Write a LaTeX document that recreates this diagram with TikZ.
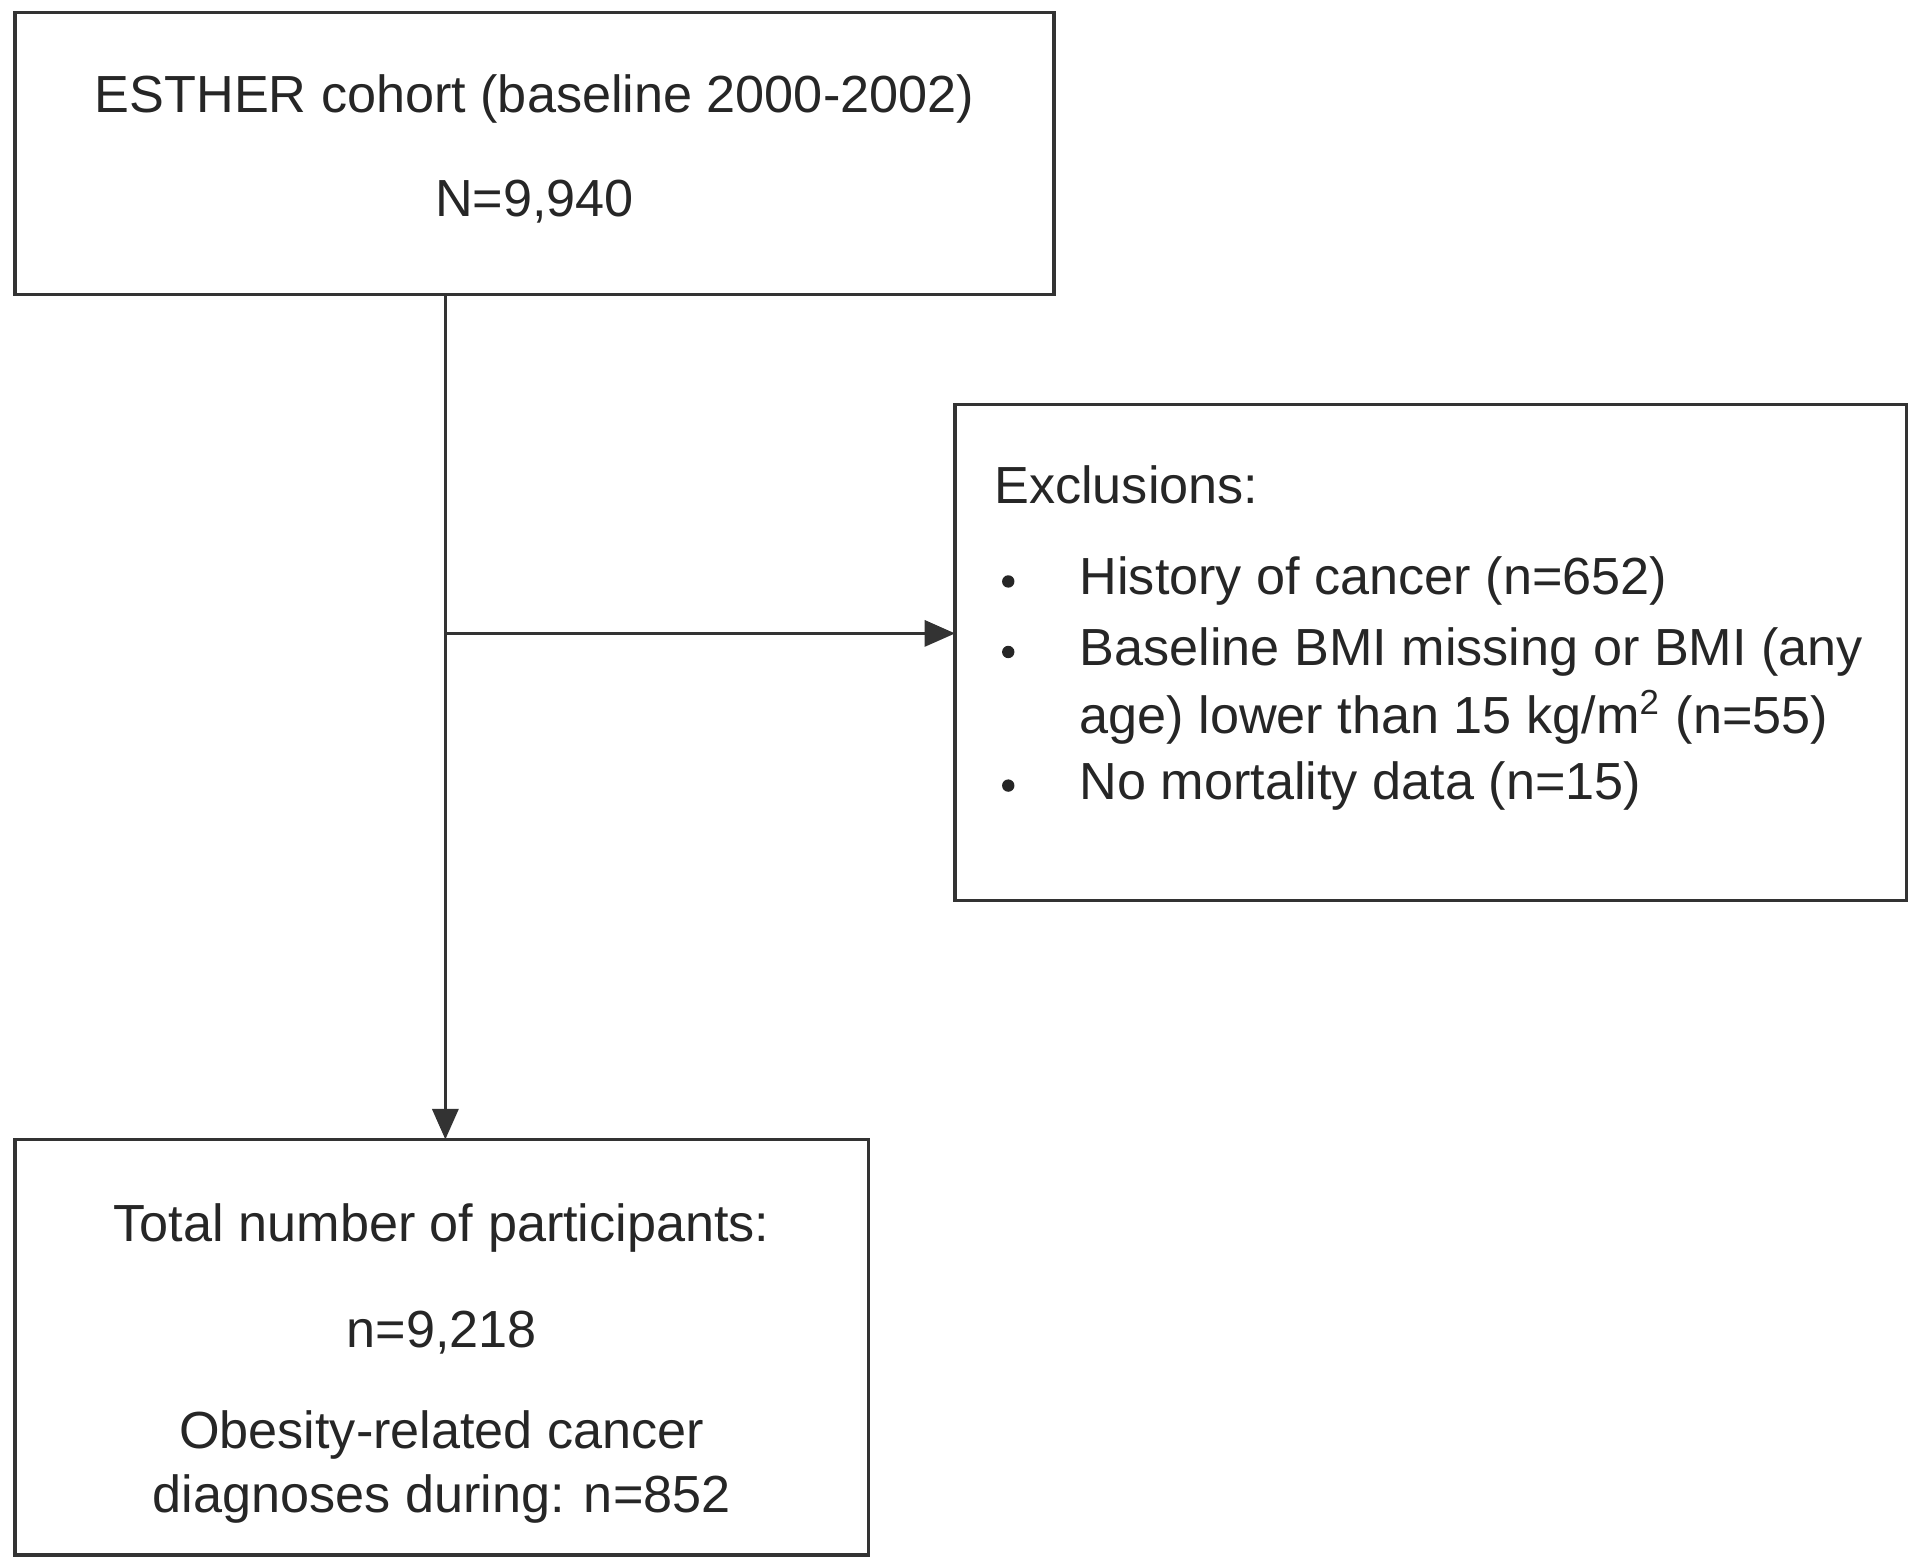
\documentclass[tikz,border=0pt]{standalone}
\usepackage{fontspec}
\setmainfont{Liberation Sans}
\usetikzlibrary{arrows.meta}
\begin{document}
\begin{tikzpicture}[x=0.01cm,y=-0.01cm,
  box/.style={draw=black!80,line width=0.8pt},
  txt/.style={font=\fontsize{12pt}{14pt}\selectfont,text=black!85,inner sep=0pt},
  conn/.style={draw=black!80,line width=0.7pt,-{Triangle[length=7pt,width=6pt]}}]
\useasboundingbox (0,0) rectangle (1552,1266);
\path[box] (12,10) rectangle (852,238);
\coordinate (topS) at (360,238);
\path[box] (772,327) rectangle (1541,728);
\coordinate (exW) at (772,512);
\path[box] (12,921) rectangle (702,1257);
\coordinate (botN) at (360,921);
\coordinate (br) at (360,512);
\node[txt] (t1) at (432,80) {ESTHER cohort (baseline 2000-2002)};
\node[txt] (t2) at (432,163) {N=9,940};
\node[txt,anchor=west] (e0) at (803,392) {Exclusions:};
\foreach \yy in {470,527,635}{\fill[black!85] (815,\yy) circle[radius=0.05cm];}
\node[txt,anchor=west] (e1) at (872,470) {History of cancer (n=652)};
\node[txt,anchor=west] (e2) at (872,527) {Baseline BMI missing or BMI (any};
\node[txt,anchor=west] (e3) at (872,580) {age) lower than 15 kg/m\textsuperscript{2} (n=55)};
\node[txt,anchor=west] (e4) at (872,635) {No mortality data (n=15)};
\node[txt] (b1) at (357,993) {Total number of participants:};
\node[txt] (b2) at (357,1077) {n=9,218};
\node[txt] (b3) at (357,1160) {Obesity-related cancer};
\node[txt] (b4) at (357,1212) {diagnoses during: n=852};
\draw[conn] (topS) -- (botN);
\draw[conn] (br) -- (exW);
\end{tikzpicture}
\end{document}
